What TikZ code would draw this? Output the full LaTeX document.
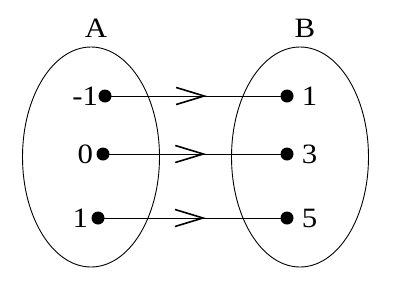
\documentclass[tikz,border=0pt]{standalone}
\usepackage{fontspec}
\setmainfont{Liberation Serif}[FakeStretch=1.1]
\usetikzlibrary{arrows.meta,positioning,shapes.geometric,decorations.markings}
\newcommand\setfont{\fontsize{28pt}{32pt}\selectfont}

\begin{document}
\begin{tikzpicture}[x=1pt,y=-1pt,
    every node/.style={font=\setfont},
    set/.style={ellipse,draw,line width=0.9pt,minimum width=137pt,minimum height=220pt,inner sep=0pt},
    pt/.style={circle,fill,inner sep=0pt,minimum size=13pt},
    lbl/.style={inner sep=0pt},
    ar/.style={line width=1pt,postaction={decorate},
               decoration={markings,mark=at position #1 with {\arrow[line width=1.6pt]{Straight Barb[length=28pt,width=17pt]}}}},
    ar/.default=0.56]
    \useasboundingbox (0,0) rectangle (399,295);
    \node[set](setA) at (91,157){};
    \node[set](setB) at (300,157){};
    \node(nameA) at (96,28){A};
    \node(nameB) at (305,28){B};
    % elements of A
    \node[pt](a1) at (105,96){};
    \node[pt](a2) at (103,154){};
    \node[pt](a3) at (98,218){};
    % elements of B
    \node[pt](b1) at (287,96){};
    \node[pt](b2) at (287,154){};
    \node[pt](b3) at (287,218){};
    \node[lbl,left=0pt of a1](la1){-1};
    \node[lbl,left=3pt of a2](la2){0};
    \node[lbl,left=3pt of a3](la3){1};
    \node[lbl,right=8pt of b1](lb1){1};
    \node[lbl,right=8pt of b2](lb2){3};
    \node[lbl,right=8pt of b3](lb3){5};
    \draw[ar=0.56](a1.center)--(b1.center);
    \draw[ar=0.56](a2.center)--(b2.center);
    \draw[ar=0.57](a3.center)--(b3.center);
\end{tikzpicture}
\end{document}
